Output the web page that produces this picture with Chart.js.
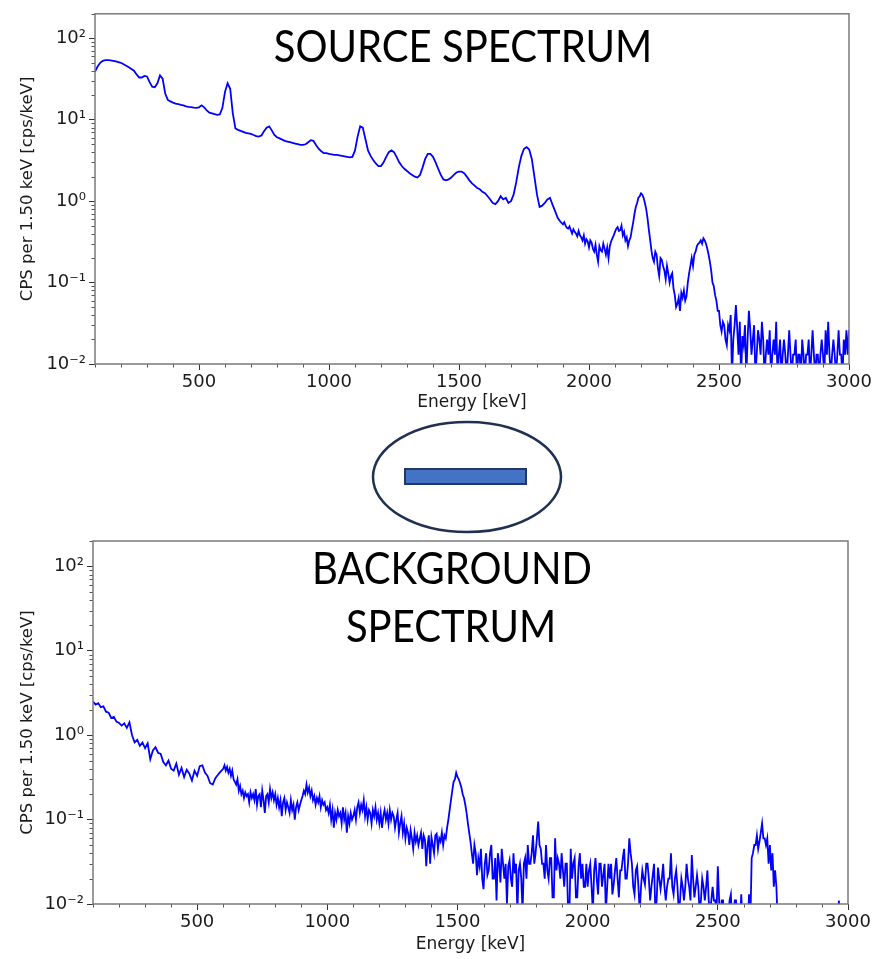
<!DOCTYPE html>
<html>
<head>
<meta charset="utf-8">
<script src="https://cdn.jsdelivr.net/npm/chart.js@4.4.0/dist/chart.umd.min.js"></script>
<style>
  body { margin: 0; background: #fff; }
  #page { position: relative; width: 876px; height: 959px; overflow: hidden; }
  .plot { position: absolute; left: 0; width: 876px; }
  .caption {
    position: absolute;
    font-family: Lato, 'Open Sans', sans-serif;
    font-size: 44px;
    line-height: 44px;
    color: #000;
    white-space: nowrap;
    transform: translateX(-50%) scaleX(0.91);
  }
</style>
</head>
<body>
<div id="page">
  <svg style="position:absolute;left:360px;top:415px" width="220" height="125">
    <ellipse cx="107" cy="62" rx="94" ry="55" fill="#fff" stroke="#1f3050" stroke-width="2.5"/>
    <rect x="45" y="54" width="121" height="15" fill="#4472c4" stroke="#1f3864" stroke-width="2"/>
  </svg>
  <div class="plot" style="top:0;height:420px"><canvas id="sourceChart"></canvas></div>
  <div class="plot" style="top:500px;height:459px"><canvas id="backgroundChart"></canvas></div>
  <div class="caption" style="left:463px;top:23px">SOURCE SPECTRUM</div>
  <div class="caption" style="left:452px;top:545px">BACKGROUND</div>
  <div class="caption" style="left:451px;top:603px">SPECTRUM</div>
</div>
<script>
// энергия бинов спектра источника, кэВ
const sourceEnergyKeV = [
  100, 110, 120, 130, 140, 150, 160, 170, 180, 190,
  200, 210, 220, 230, 240, 250, 260, 270, 280, 290,
  300, 310, 320, 330, 340, 350, 360, 370, 380, 390,
  400, 410, 420, 430, 440, 450, 460, 470, 480, 490,
  500, 510, 520, 530, 540, 550, 560, 570, 580, 590,
  600, 610, 620, 630, 640, 650, 660, 670, 680, 690,
  700, 710, 720, 730, 740, 750, 760, 770, 780, 790,
  800, 810, 820, 830, 840, 850, 860, 870, 880, 890,
  900, 910, 920, 930, 940, 950, 960, 970, 980, 990,
  1000, 1010, 1020, 1030, 1040, 1050, 1060, 1070, 1080, 1090,
  1100, 1110, 1120, 1130, 1140, 1150, 1160, 1170, 1180, 1190,
  1200, 1210, 1220, 1230, 1240, 1250, 1260, 1270, 1280, 1290,
  1300, 1310, 1320, 1330, 1340, 1350, 1360, 1370, 1380, 1390,
  1400, 1410, 1420, 1430, 1440, 1450, 1460, 1470, 1480, 1490,
  1500, 1510, 1520, 1530, 1540, 1550, 1560, 1570, 1580, 1590,
  1600, 1610, 1620, 1630, 1640, 1650, 1660, 1670, 1680, 1690,
  1700, 1710, 1720, 1730, 1740, 1750, 1760, 1770, 1780, 1790,
  1800, 1810, 1820, 1830, 1840, 1850, 1860, 1870, 1880, 1890,
  1900, 1905, 1910, 1915, 1920, 1925, 1930, 1935, 1940, 1945, 1950, 1955, 1960, 1965, 1970, 1975, 1980, 1985, 1990, 1995,
  2000, 2005, 2010, 2015, 2020, 2025, 2030, 2035, 2040, 2045, 2050, 2055, 2060, 2065, 2070, 2075, 2080, 2085, 2090, 2095,
  2100, 2105, 2110, 2115, 2120, 2125, 2130, 2135, 2140, 2145, 2150, 2155, 2160, 2165, 2170, 2175, 2180, 2185, 2190, 2195,
  2200, 2205, 2210, 2215, 2220, 2225, 2230, 2235, 2240, 2245, 2250, 2255, 2260, 2265, 2270, 2275, 2280, 2285, 2290, 2295,
  2300, 2305, 2310, 2315, 2320, 2325, 2330, 2335, 2340, 2345, 2350, 2355, 2360, 2365, 2370, 2375, 2380, 2385, 2390, 2395,
  2400, 2405, 2410, 2415, 2420, 2425, 2430, 2435, 2440, 2445, 2450, 2455, 2460, 2465, 2470, 2475, 2480, 2485, 2490, 2495,
  2500, 2505, 2510, 2515, 2520, 2525, 2530, 2535, 2540, 2545, 2550, 2555, 2560, 2565, 2570, 2575, 2580, 2585, 2590, 2595,
  2600, 2605, 2610, 2615, 2620, 2625, 2630, 2635, 2640, 2645, 2650, 2655, 2660, 2665, 2670, 2675, 2680, 2685, 2690, 2695,
  2700, 2705, 2710, 2715, 2720, 2725, 2730, 2735, 2740, 2745, 2750, 2755, 2760, 2765, 2770, 2775, 2780, 2785, 2790, 2795,
  2800, 2805, 2810, 2815, 2820, 2825, 2830, 2835, 2840, 2845, 2850, 2855, 2860, 2865, 2870, 2875, 2880, 2885, 2890, 2895,
  2900, 2905, 2910, 2915, 2920, 2925, 2930, 2935, 2940, 2945, 2950, 2955, 2960, 2965, 2970, 2975, 2980, 2985, 2990, 2995,
  3000,
];

// спектр источника, cps/keV
const sourceCps = [
  39, 45, 50, 53, 54, 54, 53.5, 53, 52, 51,
  50, 48, 46, 44, 42, 40, 36, 33, 33, 34.5,
  34, 29, 25.5, 25, 28, 35, 32, 21, 17.5, 16.8,
  16.2, 15.8, 15.6, 15.2, 15, 14.6, 14.4, 14.3, 14.1, 14,
  14.2, 15, 14.2, 13, 12.2, 12, 11.7, 11.5, 11.6, 14,
  22, 28, 24, 12, 7.8, 7.5, 7.3, 7.1, 6.9, 6.8,
  6.7, 6.5, 6.3, 6.2, 6.4, 7.2, 8, 8.3, 7.4, 6.5,
  6.1, 5.9, 5.7, 5.5, 5.4, 5.3, 5.2, 5.1, 5.0, 4.9,
  4.9, 5.0, 5.3, 5.6, 5.5, 4.9, 4.4, 4.1, 3.9, 3.9,
  3.8, 3.75, 3.7, 3.7, 3.65, 3.6, 3.55, 3.5, 3.45, 3.5,
  4.2, 6.2, 8.3, 8.0, 5.8, 4.2, 3.6, 3.2, 2.9, 2.7,
  2.7, 3.0, 3.5, 4.0, 4.2, 4.0, 3.5, 3.0, 2.7, 2.5,
  2.35, 2.2, 2.1, 2.0, 1.95, 2.1, 2.6, 3.3, 3.8, 3.8,
  3.5, 3.0, 2.5, 2.1, 1.85, 1.8, 1.85, 1.95, 2.1, 2.25,
  2.3, 2.3, 2.2, 2.0, 1.8, 1.65, 1.55, 1.45, 1.4, 1.3,
  1.25, 1.15, 1.05, 0.95, 0.92, 1.0, 1.15, 1.05, 1.1, 0.95,
  1.0, 1.2, 1.7, 2.6, 3.6, 4.4, 4.6, 4.3, 3.3, 2.0,
  1.2, 0.85, 0.88, 0.95, 1.05, 1.1, 0.9, 0.75, 0.62, 0.56,
  0.52, 0.55, 0.5, 0.47, 0.46, 0.49, 0.44, 0.4, 0.45, 0.42, 0.4, 0.37, 0.43, 0.38, 0.36, 0.33, 0.38, 0.3, 0.34, 0.32,
  0.27, 0.33, 0.31, 0.26, 0.24, 0.29, 0.22, 0.18, 0.28, 0.25, 0.24, 0.3, 0.26, 0.22, 0.27, 0.2, 0.28, 0.32, 0.35, 0.38,
  0.42, 0.46, 0.48, 0.43, 0.44, 0.5, 0.38, 0.42, 0.33, 0.36, 0.28, 0.33, 0.36, 0.45, 0.55, 0.7, 0.85, 0.95, 1.1, 1.15,
  1.25, 1.2, 1.1, 0.95, 0.8, 0.62, 0.45, 0.34, 0.25, 0.2, 0.18, 0.24, 0.22, 0.15, 0.12, 0.2, 0.19, 0.16, 0.14, 0.11,
  0.16, 0.13, 0.1, 0.12, 0.13, 0.085, 0.07, 0.05, 0.055, 0.065, 0.045, 0.075, 0.065, 0.08, 0.06, 0.068, 0.1, 0.13, 0.16, 0.2,
  0.16, 0.22, 0.24, 0.28, 0.3, 0.31, 0.33, 0.3, 0.35, 0.33, 0.3, 0.26, 0.22, 0.18, 0.14, 0.1, 0.09, 0.07, 0.06, 0.045,
  0.045, 0.03, 0.025, 0.033, 0.03, 0.02, 0.017, 0.03, 0.026, 0.04, 0.007, 0.02, 0.03, 0.053, 0.028, 0.013, 0.033, 0.007, 0.022, 0.017,
  0.03, 0.007, 0.02, 0.045, 0.027, 0.013, 0.02, 0.03, 0.007, 0.013, 0.026, 0.02, 0.013, 0.033, 0.02, 0.007, 0.013, 0.02, 0.013, 0.026,
  0.007, 0.013, 0.02, 0.013, 0.033, 0.007, 0.013, 0.02, 0.007, 0.013, 0.02, 0.013, 0.007, 0.013, 0.026, 0.013, 0.007, 0.013, 0.013, 0.02,
  0.007, 0.013, 0.013, 0.007, 0.02, 0.013, 0.007, 0.013, 0.013, 0.02, 0.007, 0.013, 0.026, 0.013, 0.007, 0.013, 0.013, 0.007, 0.013, 0.02,
  0.013, 0.007, 0.026, 0.013, 0.033, 0.013, 0.007, 0.013, 0.02, 0.013, 0.007, 0.013, 0.026, 0.013, 0.013, 0.007, 0.02, 0.013, 0.026, 0.013,
  0.026,
];

// энергия бинов фонового спектра, кэВ
const backgroundEnergyKeV = [
  100, 110, 120, 130, 140, 150, 160, 170, 180, 190,
  200, 210, 220, 230, 240, 250, 260, 270, 280, 290,
  300, 310, 320, 330, 340, 350, 360, 370, 380, 390,
  400, 410, 420, 430, 440, 450, 460, 470, 480, 490,
  500, 510, 520, 530, 540, 550, 560, 570, 580, 590,
  600, 605, 610, 615, 620, 625, 630, 635, 640, 645, 650, 655, 660, 665, 670, 675, 680, 685, 690, 695,
  700, 705, 710, 715, 720, 725, 730, 735, 740, 745, 750, 755, 760, 765, 770, 775, 780, 785, 790, 795,
  800, 805, 810, 815, 820, 825, 830, 835, 840, 845, 850, 855, 860, 865, 870, 875, 880, 885, 890, 895,
  900, 905, 910, 915, 920, 925, 930, 935, 940, 945, 950, 955, 960, 965, 970, 975, 980, 985, 990, 995,
  1000, 1005, 1010, 1015, 1020, 1025, 1030, 1035, 1040, 1045, 1050, 1055, 1060, 1065, 1070, 1075, 1080, 1085, 1090, 1095,
  1100, 1105, 1110, 1115, 1120, 1125, 1130, 1135, 1140, 1145, 1150, 1155, 1160, 1165, 1170, 1175, 1180, 1185, 1190, 1195,
  1200, 1205, 1210, 1215, 1220, 1225, 1230, 1235, 1240, 1245, 1250, 1255, 1260, 1265, 1270, 1275, 1280, 1285, 1290, 1295,
  1300, 1305, 1310, 1315, 1320, 1325, 1330, 1335, 1340, 1345, 1350, 1355, 1360, 1365, 1370, 1375, 1380, 1385, 1390, 1395,
  1400, 1405, 1410, 1415, 1420, 1425, 1430, 1435, 1440, 1445, 1450, 1455, 1460, 1465, 1470, 1475, 1480, 1485, 1490, 1495,
  1500, 1505, 1510, 1515, 1520, 1525, 1530, 1535, 1540, 1545, 1550, 1555, 1560, 1565, 1570, 1575, 1580, 1585, 1590, 1595,
  1600, 1605, 1610, 1615, 1620, 1625, 1630, 1635, 1640, 1645, 1650, 1655, 1660, 1665, 1670, 1675, 1680, 1685, 1690, 1695,
  1700, 1705, 1710, 1715, 1720, 1725, 1730, 1735, 1740, 1745, 1750, 1755, 1760, 1765, 1770, 1775, 1780, 1785, 1790, 1795,
  1800, 1805, 1810, 1815, 1820, 1825, 1830, 1835, 1840, 1845, 1850, 1855, 1860, 1865, 1870, 1875, 1880, 1885, 1890, 1895,
  1900, 1905, 1910, 1915, 1920, 1925, 1930, 1935, 1940, 1945, 1950, 1955, 1960, 1965, 1970, 1975, 1980, 1985, 1990, 1995,
  2000, 2005, 2010, 2015, 2020, 2025, 2030, 2035, 2040, 2045, 2050, 2055, 2060, 2065, 2070, 2075, 2080, 2085, 2090, 2095,
  2100, 2105, 2110, 2115, 2120, 2125, 2130, 2135, 2140, 2145, 2150, 2155, 2160, 2165, 2170, 2175, 2180, 2185, 2190, 2195,
  2200, 2205, 2210, 2215, 2220, 2225, 2230, 2235, 2240, 2245, 2250, 2255, 2260, 2265, 2270, 2275, 2280, 2285, 2290, 2295,
  2300, 2305, 2310, 2315, 2320, 2325, 2330, 2335, 2340, 2345, 2350, 2355, 2360, 2365, 2370, 2375, 2380, 2385, 2390, 2395,
  2400, 2405, 2410, 2415, 2420, 2425, 2430, 2435, 2440, 2445, 2450, 2455, 2460, 2465, 2470, 2475, 2480, 2485, 2490, 2495,
  2500, 2505, 2510, 2515, 2520, 2525, 2530, 2535, 2540, 2545, 2550, 2555, 2560, 2565, 2570, 2575, 2580, 2585, 2590, 2595,
  2600, 2605, 2610, 2615, 2620, 2625, 2630, 2635, 2640, 2645, 2650, 2655, 2660, 2665, 2670, 2675, 2680, 2685, 2690, 2695,
  2700, 2705, 2710, 2715, 2720, 2725, 2730, 2735, 2740, 2745, 2750, 2755, 2760, 2765, 2770, 2775, 2780, 2785, 2790, 2795,
  2800, 2805, 2810, 2815, 2820, 2825, 2830, 2835, 2840, 2845, 2850, 2855, 2860, 2865, 2870, 2875, 2880, 2885, 2890, 2895,
  2900, 2905, 2910, 2915, 2920, 2925, 2930, 2935, 2940, 2945, 2950, 2955, 2960, 2965, 2970, 2975, 2980, 2985, 2990, 2995,
  3000,
];

// фоновый спектр, cps/keV
const backgroundCps = [
  2.5, 2.3, 2.4, 2.15, 2.2, 1.9, 1.85, 1.6, 1.65, 1.45,
  1.4, 1.3, 1.38, 1.22, 1.42, 1.0, 0.82, 0.88, 0.75, 0.82,
  0.7, 0.8, 0.52, 0.66, 0.72, 0.62, 0.6, 0.48, 0.44, 0.5,
  0.4, 0.38, 0.46, 0.34, 0.41, 0.32, 0.39, 0.35, 0.29, 0.38,
  0.33, 0.43, 0.44, 0.36, 0.33, 0.27, 0.26, 0.31, 0.34, 0.37,
  0.4, 0.44, 0.38, 0.42, 0.36, 0.4, 0.33, 0.38, 0.3, 0.28, 0.26, 0.3, 0.22, 0.25, 0.2, 0.22, 0.18, 0.21, 0.19, 0.2,
  0.16, 0.21, 0.18, 0.2, 0.17, 0.23, 0.15, 0.19, 0.2, 0.14, 0.22, 0.17, 0.12, 0.19, 0.2, 0.16, 0.23, 0.18, 0.21, 0.17,
  0.2, 0.15, 0.18, 0.14, 0.17, 0.11, 0.16, 0.18, 0.13, 0.16, 0.14, 0.12, 0.17, 0.13, 0.15, 0.1, 0.14, 0.16, 0.13, 0.15,
  0.17, 0.19, 0.22, 0.2, 0.26, 0.21, 0.24, 0.19, 0.22, 0.17, 0.19, 0.15, 0.18, 0.16, 0.19, 0.14, 0.17, 0.15, 0.16, 0.13,
  0.14, 0.12, 0.15, 0.1, 0.13, 0.08, 0.12, 0.1, 0.13, 0.11, 0.12, 0.09, 0.14, 0.1, 0.12, 0.07, 0.11, 0.09, 0.12, 0.1,
  0.11, 0.13, 0.1, 0.14, 0.16, 0.12, 0.15, 0.13, 0.17, 0.11, 0.14, 0.1, 0.13, 0.12, 0.09, 0.13, 0.11, 0.14, 0.1, 0.12,
  0.09, 0.12, 0.08, 0.11, 0.13, 0.1, 0.12, 0.09, 0.13, 0.1, 0.12, 0.11, 0.08, 0.1, 0.12, 0.07, 0.09, 0.11, 0.07, 0.09,
  0.06, 0.08, 0.07, 0.05, 0.075, 0.06, 0.045, 0.07, 0.055, 0.065, 0.05, 0.06, 0.07, 0.045, 0.065, 0.058, 0.028, 0.05, 0.065, 0.03,
  0.062, 0.05, 0.04, 0.065, 0.068, 0.045, 0.06, 0.055, 0.07, 0.05, 0.065, 0.06, 0.08, 0.1, 0.13, 0.17, 0.22, 0.28, 0.3, 0.36,
  0.32, 0.3, 0.27, 0.24, 0.2, 0.18, 0.15, 0.12, 0.09, 0.07, 0.055, 0.04, 0.03, 0.05, 0.04, 0.022, 0.035, 0.028, 0.045, 0.02,
  0.015, 0.03, 0.04, 0.022, 0.025, 0.04, 0.05, 0.02, 0.02, 0.035, 0.011, 0.04, 0.03, 0.018, 0.045, 0.03, 0.02, 0.03, 0.01, 0.028,
  0.033, 0.02, 0.016, 0.04, 0.023, 0.03, 0.008, 0.025, 0.03, 0.02, 0.008, 0.03, 0.035, 0.02, 0.05, 0.03, 0.03, 0.04, 0.065, 0.03,
  0.04, 0.06, 0.095, 0.05, 0.045, 0.03, 0.03, 0.02, 0.05, 0.025, 0.02, 0.035, 0.035, 0.012, 0.012, 0.06, 0.025, 0.035, 0.03, 0.02,
  0.04, 0.025, 0.016, 0.03, 0.03, 0.008, 0.008, 0.045, 0.02, 0.03, 0.035, 0.012, 0.012, 0.028, 0.04, 0.02, 0.03, 0.016, 0.016, 0.03,
  0.016, 0.025, 0.03, 0.016, 0.008, 0.025, 0.035, 0.02, 0.013, 0.03, 0.03, 0.016, 0.022, 0.03, 0.008, 0.016, 0.03, 0.02, 0.03, 0.013,
  0.017, 0.025, 0.035, 0.02, 0.012, 0.025, 0.025, 0.035, 0.045, 0.02, 0.02, 0.03, 0.06, 0.04, 0.03, 0.016, 0.013, 0.025, 0.028, 0.016,
  0.008, 0.016, 0.025, 0.02, 0.017, 0.03, 0.03, 0.02, 0.011, 0.016, 0.022, 0.03, 0.008, 0.011, 0.027, 0.02, 0.015, 0.02, 0.03, 0.016,
  0.011, 0.016, 0.02, 0.02, 0.04, 0.016, 0.013, 0.02, 0.025, 0.016, 0.008, 0.011, 0.02, 0.016, 0.011, 0.016, 0.03, 0.02, 0.016, 0.011,
  0.038, 0.02, 0.012, 0.016, 0.022, 0.016, 0.008, 0.011, 0.02, 0.016, 0.011, 0.016, 0.025, 0.011, 0.008, 0.011, 0.016, 0.011, 0.011, 0.008,
  0.028, 0.011, 0.006, 0.011, 0.011, 0.006, 0.006, 0.006, 0.006, 0.011, 0.013, 0.006, 0.006, 0.011, 0.011, 0.006, 0.006, 0.006, 0.013, 0.006,
  0.006, 0.006, 0.006, 0.006, 0.013, 0.006, 0.035, 0.04, 0.05, 0.05, 0.065, 0.045, 0.055, 0.07, 0.09, 0.06, 0.06, 0.05, 0.06, 0.03,
  0.05, 0.025, 0.04, 0.016, 0.025, 0.016, 0.006, 0.005, 0.005, 0.005, 0.005, 0.005, 0.005, 0.005, 0.005, 0.005, 0.005, 0.005, 0.005, 0.005,
  0.005, 0.005, 0.005, 0.005, 0.005, 0.005, 0.005, 0.005, 0.005, 0.005, 0.005, 0.005, 0.005, 0.005, 0.005, 0.005, 0.005, 0.005, 0.005, 0.005,
  0.005, 0.005, 0.005, 0.005, 0.005, 0.005, 0.005, 0.005, 0.005, 0.005, 0.005, 0.005, 0.005, 0.011, 0.005, 0.005, 0.005, 0.005, 0.005, 0.005,
  0.005,
];

const xTickValues = [500, 1000, 1500, 2000, 2500, 3000];
const yTickValues = [0.01, 0.1, 1, 10, 100];
const yTickLabels = ['10\u207B\u00B2', '10\u207B\u00B9', '10\u2070', '10\u00B9', '10\u00B2'];
const xAxisTitle = 'Energy [keV]';
const yAxisTitle = 'CPS per 1.50 keV [cps/keV]';

const TEXT_COLOR = '#1a1a1a';
const TICK_FONT = { family: 'DejaVu Sans', size: 18 };

// рамка графика + мелкие засечки
const frameAndMinorTicks = {
  id: 'frameAndMinorTicks',
  afterDraw(chart, args, options) {
    const {
      ctx, chartArea: {
        left, top, right, bottom,
      }, scales: { x, y },
    } = chart;
    ctx.save();
    ctx.strokeStyle = options.tickColor;
    ctx.lineWidth = 1;
    ctx.beginPath();
    for (let v = x.min; v <= x.max; v += 100) {
      if (v % 500 !== 0) {
        const px = Math.round(x.getPixelForValue(v)) + 0.5;
        ctx.moveTo(px, bottom);
        ctx.lineTo(px, bottom + options.minorLength);
      }
    }
    for (let d = -2; d <= 2; d += 1) {
      for (let m = 2; m <= 9; m += 1) {
        const v = m * 10 ** d;
        if (v <= y.max) {
          const py = Math.round(y.getPixelForValue(v)) + 0.5;
          ctx.moveTo(left, py);
          ctx.lineTo(left - options.minorLength, py);
        }
      }
    }
    ctx.stroke();
    ctx.strokeStyle = options.frameColor;
    ctx.lineWidth = options.frameWidth;
    ctx.strokeRect(left, top, right - left, bottom - top);
    ctx.restore();
  },
};

function spectrumChart(canvasId, energies, values, geo) {
  const el = document.getElementById(canvasId).getContext('2d');
  return new Chart(el, {
    type: 'line',
    data: {
      datasets: [{
        data: energies.map((e, i) => ({ x: e, y: values[i] })),
        borderColor: '#0000ff',
        borderWidth: 1.8,
        pointRadius: 0,
        tension: 0,
        fill: false,
      }],
    },
    options: {
      responsive: true,
      maintainAspectRatio: false,
      animation: false,
      events: [],
      layout: { padding: geo.padding },
      scales: {
        x: {
          type: 'linear',
          min: 100,
          max: 3000,
          afterBuildTicks: (scale) => { scale.ticks = xTickValues.map((v) => ({ value: v })); },
          afterFit: (scale) => { scale.height = geo.xAxisHeight; },
          border: { display: false },
          grid: {
            drawOnChartArea: false, tickLength: 6, color: '#333',
          },
          ticks: {
            font: TICK_FONT,
            color: TEXT_COLOR,
            padding: 2,
            maxRotation: 0,
            autoSkip: false,
            callback: (value) => String(value),
          },
          title: {
            display: true,
            text: xAxisTitle,
            color: TEXT_COLOR,
            font: { family: 'DejaVu Sans', size: 17 },
            padding: { top: 0, bottom: geo.xTitlePad },
          },
        },
        y: {
          type: 'logarithmic',
          min: 0.01,
          max: 200,
          afterBuildTicks: (scale) => { scale.ticks = yTickValues.map((v) => ({ value: v })); },
          afterFit: (scale) => { scale.width = geo.yAxisWidth; },
          border: { display: false },
          grid: {
            drawOnChartArea: false, tickLength: 6, color: '#333',
          },
          ticks: {
            font: TICK_FONT,
            color: TEXT_COLOR,
            padding: 3,
            callback: (value, index) => yTickLabels[index],
          },
          title: {
            display: true,
            text: yAxisTitle,
            color: TEXT_COLOR,
            font: { family: 'DejaVu Sans', size: 16.5 },
            padding: { top: 18, bottom: 0 },
          },
        },
      },
      plugins: {
        legend: { display: false },
        tooltip: { enabled: false },
        frameAndMinorTicks: {
          frameColor: '#7a7a7a',
          frameWidth: 1.5,
          tickColor: '#555',
          minorLength: 3.5,
        },
      },
    },
    plugins: [frameAndMinorTicks],
  });
}

spectrumChart('sourceChart', sourceEnergyKeV, sourceCps, {
  padding: {
    top: 6, right: 27, left: 0, bottom: 0,
  },
  xAxisHeight: 56,
  yAxisWidth: 95,
  xTitlePad: 7,
});

spectrumChart('backgroundChart', backgroundEnergyKeV, backgroundCps, {
  padding: {
    top: 41, right: 28, left: 0, bottom: 0,
  },
  xAxisHeight: 55,
  yAxisWidth: 93,
  xTitlePad: 4,
});
</script>
</body>
</html>
